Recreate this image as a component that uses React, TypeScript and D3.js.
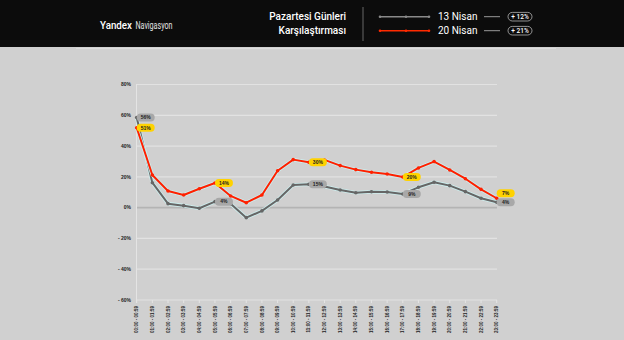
import React from "react";
import * as d3 from "d3";

const categories: string[] = [
  "00:00 - 00:59", "01:00 - 01:59", "02:00 - 02:59", "03:00 - 03:59", "04:00 - 04:59", "05:00 - 05:59",
  "06:00 - 06:59", "07:00 - 07:59", "08:00 - 08:59", "09:00 - 09:59", "10:00 - 10:59", "11:00 - 11:59",
  "12:00 - 12:59", "13:00 - 13:59", "14:00 - 14:59", "15:00 - 15:59", "16:00 - 16:59", "17:00 - 17:59",
  "18:00 - 18:59", "19:00 - 19:59", "20:00 - 20:59", "21:00 - 21:59", "22:00 - 22:59", "23:00 - 23:59",
];

const nisan13: number[] = [58.5, 16.2, 2.6, 1.3, -0.4, 3.9, 2.5, -6.5, -2.1, 5, 14.7, 15.2, 13.8, 11.5, 9.7, 10.3, 10.2, 8.9, 13.2, 16.5, 14.3, 10.4, 6.1, 3.5];
const nisan20: number[] = [51.9, 21.2, 10.8, 8.2, 12.3, 16, 7.6, 3.2, 8.2, 24, 31.2, 29.5, 31, 27.3, 24.7, 23, 21.9, 19.9, 25.8, 29.9, 24.5, 18.8, 11.9, 6.1];

const yTicks: number[] = [80, 60, 40, 20, 0, -20, -40, -60];
const yTickLabels: string[] = ["80%", "60%", "40%", "20%", "0%", "- 20%", "- 40%", "- 60%"];

const labelIdx13: number[] = [0, 5, 11, 17, 23];
const labelText13: string[] = ["56%", "4%", "15%", "9%", "4%"];
const labelIdx20: number[] = [0, 5, 11, 17, 23];
const labelText20: string[] = ["51%", "14%", "30%", "20%", "7%"];
const labelShift20: number[] = [0, 0, 0, 0, -5];

const seriesNames: string[] = ["13 Nisan", "20 Nisan"];
const seriesChanges: string[] = ["+ 12%", "+ 21%"];

export default function App() {
  const W = 624, H = 340;
  const x = d3.scalePoint<string>().domain(categories).range([136.7, 496.7]);
  const y = d3.scaleLinear().domain([-60, 80]).range([300, 84.5]);
  const line = d3.line<number>().x((_, i) => x(categories[i]) as number).y((d) => y(d));

  const grey = "#666666";
  const red = "#ff2000";
  const halo = "#cdeeee";
  const font = "'Liberation Sans', Arial, sans-serif";

  const series = [
    { data: nisan13, color: grey },
    { data: nisan20, color: red },
  ];

  return (
    <svg width={W} height={H} style={{ position: "fixed", left: 0, top: 0, display: "block" }} fontFamily={font}>
      <rect x={0} y={0} width={W} height={H} fill="#d0d0d0" />
      {/* header */}
      <rect x={0} y={0} width={W} height={47} fill="#0c0c0c" />
      <line x1={76} x2={556} y1={48.5} y2={48.5} stroke="#dcdcdc" strokeWidth={1} />
      <text x={100} y={29} fontSize={11.5} fill="#fff" fontFamily="Roboto, sans-serif" fontWeight={500} textLength={32} lengthAdjust="spacingAndGlyphs">Yandex</text>
      <text x={135.5} y={29} fontSize={11.5} fill="#e6e6e6" fontFamily="Roboto, sans-serif" fontWeight={400} textLength={37} lengthAdjust="spacingAndGlyphs">Navigasyon</text>
      <text x={346} y={20} fontSize={10} fill="#fff" textAnchor="end" fontFamily="Roboto, sans-serif" fontWeight={500}>Pazartesi Günleri</text>
      <text x={346} y={34} fontSize={10} fill="#fff" textAnchor="end" fontFamily="Roboto, sans-serif" fontWeight={500}>Karşılaştırması</text>
      <line x1={363} x2={363} y1={7} y2={41} stroke="#666" strokeWidth={1} />
      {seriesNames.map((name, k) => {
        const ly = k === 0 ? 16.7 : 30.7;
        const col = k === 0 ? "#8a8a8a" : "#ff2a00";
        return (
          <g key={name}>
            <line x1={380} x2={429} y1={ly} y2={ly} stroke={col} strokeWidth={1.5} />
            {[380, 406, 429].map((cx) => (
              <circle key={cx} cx={cx} cy={ly} r={1.3} fill={col} />
            ))}
            <text x={438} y={ly + 3.5} fontSize={10} fill="#fff" fontFamily="Roboto, sans-serif">{name}</text>
            <line x1={484} x2={500} y1={ly} y2={ly} stroke="#999" strokeWidth={1} />
            <rect x={508} y={ly - 4.3} width={24} height={8.6} rx={4.3} fill="none" stroke="#ccc" strokeWidth={0.7} />
            <text x={520} y={ly + 2.2} fontSize={6.5} fill="#fff" textAnchor="middle" fontFamily="Roboto, sans-serif" fontWeight={500}>{seriesChanges[k]}</text>
          </g>
        );
      })}

      {/* grid */}
      {yTicks.map((t, i) => (
        <g key={t}>
          <line x1={136} x2={497} y1={y(t)} y2={y(t)} stroke={t === 0 ? "#b4b4b4" : "#e2e2e2"} strokeWidth={t === 0 ? 1.6 : 1.2} />
          <text x={131} y={y(t) + 1.8} fontSize={5} fill="#222" textAnchor="end" fontWeight={700}>{yTickLabels[i]}</text>
        </g>
      ))}
      <line x1={136.5} x2={136.5} y1={84} y2={303} stroke="#e4e4e4" strokeWidth={1} />
      {categories.map((c) => {
        const cx = x(c) as number;
        return (
          <g key={c}>
            <line x1={cx} x2={cx} y1={300} y2={303} stroke="#e4e4e4" strokeWidth={1} />
            <text transform={`translate(${cx + 1.6},${306}) rotate(-90)`} fontSize={4.5} fill="#222" textAnchor="end" fontWeight={700}>{c}</text>
          </g>
        );
      })}

      {/* lines */}
      {series.map((s, k) => (
        <g key={k}>
          <path d={line(s.data) || ""} fill="none" stroke={halo} strokeWidth={3.6} strokeLinejoin="round" />
          <path d={line(s.data) || ""} fill="none" stroke={s.color} strokeWidth={2} strokeLinejoin="round" />
          {s.data.map((v, i) => (
            <circle key={i} cx={x(categories[i]) as number} cy={y(v)} r={1.8} fill={s.color} />
          ))}
        </g>
      ))}

      {/* labels */}
      {labelIdx13.map((idx, j) => {
        const px = x(categories[idx]) as number;
        const py = y(nisan13[idx]);
        return (
          <g key={"g" + j}>
            <rect x={px} y={py - 4} width={18} height={8} rx={4} fill="#a8a8a8" />
            <text x={px + 9} y={py + 1.8} fontSize={5} fill="#222" textAnchor="middle" fontWeight={700}>{labelText13[j]}</text>
          </g>
        );
      })}
      {labelIdx20.map((idx, j) => {
        const px = x(categories[idx]) as number;
        const py = y(nisan20[idx]) + labelShift20[j];
        return (
          <g key={"r" + j}>
            <rect x={px} y={py - 4} width={18} height={8} rx={4} fill="#ffd200" />
            <text x={px + 9} y={py + 1.8} fontSize={5} fill="#222" textAnchor="middle" fontWeight={700}>{labelText20[j]}</text>
          </g>
        );
      })}
    </svg>
  );
}
